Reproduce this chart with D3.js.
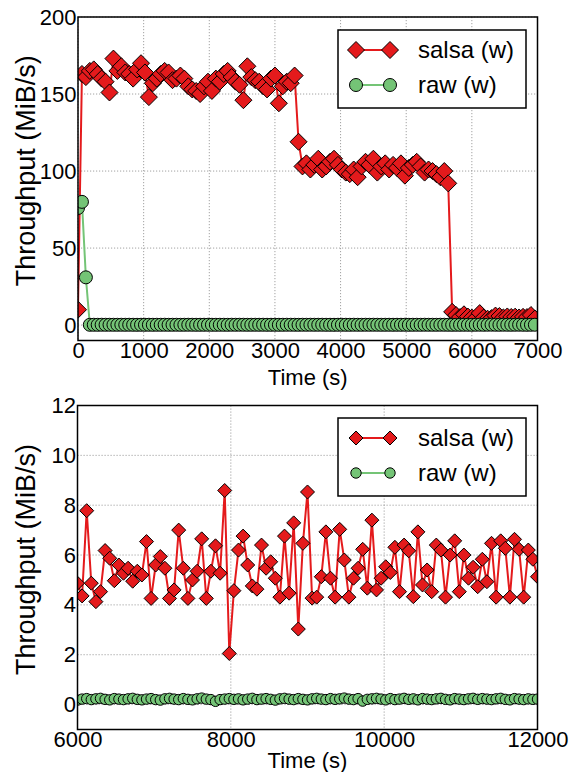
<!DOCTYPE html>
<html><head><meta charset="utf-8">
<script src="https://cdn.jsdelivr.net/npm/d3@7"></script>
<style>
body{margin:0;background:#fff}
svg{display:block}
text{font-family:"Liberation Sans",Arial,Helvetica,sans-serif;fill:#000}
</style>
</head><body>
<svg id="c" width="574" height="772"></svg>
<script>
// ---------- DATA ----------
const seriesNames = ["salsa (w)", "raw (w)"];

const topTime = [
0,60,120,180,240,300,360,420,480,540,
600,660,720,780,840,900,960,1020,1080,1140,
1200,1260,1320,1380,1440,1500,1560,1620,1680,1740,
1800,1860,1920,1980,2040,2100,2160,2220,2280,2340,
2400,2460,2520,2580,2640,2700,2760,2820,2880,2940,
3000,3060,3120,3180,3240,3300,3360,3420,3480,3540,
3600,3660,3720,3780,3840,3900,3960,4020,4080,4140,
4200,4260,4320,4380,4440,4500,4560,4620,4680,4740,
4800,4860,4920,4980,5040,5100,5160,5220,5280,5340,
5400,5460,5520,5580,5640,5700,5760,5820,5880,5940,
6000,6060,6120,6180,6240,6300,6360,6420,6480,6540,
6600,6660,6720,6780,6840,6900,6960];

const topSalsa = [
10,163,161,165,166,163,160,158,151,173,
165,168,164,163,160,166,170,164,148,157,
160,163,165,164,159,160,162,160,155,153,
152,150,155,158,152,160,158,163,165,161,
158,156,146,168,161,159,158,155,153,160,
162,144,155,158,157,162,119,103,105,101,
104,108,101,103,106,108,104,101,99,98,
101,96,103,106,104,108,99,103,105,101,
104,102,105,97,102,104,106,103,99,101,
100,98,96,100,92,8.6,6.5,5.2,7.0,5.5,
4.87,4.36,7.78,4.87,4.13,4.53,6.18,5.87,4.97,5.6,
5.27,5.47,4.95,5.35,5.2,6.54,4.26];

const topRaw = [
76,80,31,0.2,0.21,0.19,0.22,0.2,0.21,0.2,
0.2,0.21,0.19,0.22,0.2,0.18,0.21,0.2,0.22,0.19,
0.21,0.2,0.22,0.19,0.2,0.21,0.18,0.2,0.22,0.21,
0.19,0.2,0.21,0.22,0.2,0.19,0.21,0.2,0.18,0.22,
0.2,0.22,0.21,0.19,0.2,0.21,0.2,0.22,0.19,0.2,
0.21,0.19,0.2,0.22,0.21,0.2,0.18,0.21,0.2,0.22,
0.2,0.21,0.22,0.19,0.2,0.18,0.21,0.22,0.2,0.19,
0.22,0.2,0.19,0.21,0.2,0.22,0.21,0.19,0.2,0.21,
0.19,0.21,0.2,0.22,0.18,0.2,0.21,0.19,0.22,0.2,
0.2,0.19,0.22,0.21,0.2,0.18,0.21,0.2,0.22,0.21,
0.18,0.22,0.24,0.2,0.23,0.25,0.21,0.19,0.24,0.22,
0.2,0.23,0.25,0.21,0.19,0.22,0.24];

const botTime = [
6000,6060,6120,6180,6240,6300,6360,6420,6480,6540,
6600,6660,6720,6780,6840,6900,6960,7020,7080,7140,
7200,7260,7320,7380,7440,7500,7560,7620,7680,7740,
7800,7860,7920,7980,8040,8100,8160,8220,8280,8340,
8400,8460,8520,8580,8640,8700,8760,8820,8880,8940,
9000,9060,9120,9180,9240,9300,9360,9420,9480,9540,
9600,9660,9720,9780,9840,9900,9960,10020,10080,10140,
10200,10260,10320,10380,10440,10500,10560,10620,10680,10740,
10800,10860,10920,10980,11040,11100,11160,11220,11280,11340,
11400,11460,11520,11580,11640,11700,11760,11820,11880,11940,
12000];

const botSalsa = [
4.87,4.36,7.78,4.87,4.13,4.53,6.18,5.87,4.97,5.6,
5.27,5.47,4.95,5.35,5.2,6.54,4.26,5.6,5.94,5.47,
4.26,4.6,7.0,5.47,4.26,5.0,5.35,6.65,4.26,5.35,
6.37,5.27,8.59,2.05,4.57,6.2,6.76,5.6,4.76,4.63,
6.4,5.47,5.73,5.07,4.31,6.76,4.47,7.29,3.03,6.47,
8.53,4.27,4.31,5.13,6.93,5.07,4.31,7.03,5.8,4.31,
5.07,5.47,6.23,4.67,7.4,4.6,5.07,5.53,5.3,6.31,
4.53,6.4,6.17,4.33,6.93,4.8,5.4,4.53,6.4,6.2,
4.31,6.0,6.57,4.53,6.0,5.07,5.51,4.73,5.83,4.93,
6.47,4.31,6.57,6.27,4.31,6.63,6.23,4.31,6.2,5.83,
5.13];

const botRaw = [
0.18,0.22,0.24,0.2,0.23,0.25,0.21,0.19,0.24,0.22,
0.2,0.23,0.25,0.21,0.19,0.22,0.24,0.2,0.18,0.23,
0.25,0.22,0.2,0.24,0.21,0.19,0.23,0.26,0.22,0.2,
0.13,0.2,0.22,0.24,0.21,0.23,0.19,0.22,0.25,0.2,
0.22,0.24,0.21,0.18,0.23,0.25,0.22,0.2,0.24,0.21,
0.19,0.23,0.25,0.22,0.2,0.24,0.21,0.23,0.26,0.22,
0.2,0.24,0.14,0.21,0.23,0.25,0.22,0.19,0.24,0.2,
0.22,0.25,0.21,0.23,0.19,0.24,0.22,0.2,0.23,0.25,
0.21,0.19,0.24,0.22,0.2,0.23,0.25,0.21,0.24,0.22,
0.2,0.23,0.25,0.21,0.19,0.24,0.22,0.2,0.23,0.21,
0.22];

const topXTicks = [0,1000,2000,3000,4000,5000,6000,7000];
const topYTicks = [0,50,100,150,200];
const botXTicks = [6000,8000,10000,12000];
const botYTicks = [0,2,4,6,8,10,12];
const xLabel = "Time (s)";
const yLabel = "Throughput (MiB/s)";

// ---------- DRAW ----------
const RED = "#e41a1c", GREEN = "#74c476";
const svg = d3.select("#c");
const diamond = r => `M0,${-r}L${r},0L0,${r}L${-r},0Z`;

function panel(o) {
  const g = svg.append("g");
  const x = d3.scaleLinear().domain(o.xDomain).range([o.left, o.right]);
  const y = d3.scaleLinear().domain(o.yDomain).range([o.bottom, o.top]);

  // grid
  g.append("g").selectAll("line").data(o.xTicks).join("line")
    .attr("x1", d => x(d)).attr("x2", d => x(d))
    .attr("y1", o.top).attr("y2", o.bottom)
    .attr("stroke", "#8a8a8a").attr("stroke-width", 0.8).attr("stroke-dasharray", "1.2,1.8");
  g.append("g").selectAll("line").data(o.yTicks).join("line")
    .attr("y1", d => y(d)).attr("y2", d => y(d))
    .attr("x1", o.left).attr("x2", o.right)
    .attr("stroke", "#8a8a8a").attr("stroke-width", 0.8).attr("stroke-dasharray", "1.2,1.8");

  const cid = "clip" + o.id;
  svg.append("clipPath").attr("id", cid).append("rect")
    .attr("x", o.left).attr("y", o.top)
    .attr("width", o.right - o.left).attr("height", o.bottom - o.top);
  const plot = g.append("g").attr("clip-path", `url(#${cid})`);

  const series = [
    {t: o.time, v: o.salsa, color: RED, kind: "D"},
    {t: o.time, v: o.raw, color: GREEN, kind: "o"}
  ];
  const line = d3.line().x(d => x(d[0])).y(d => y(d[1]));
  series.forEach(s => {
    const pts = s.t.map((t, i) => [t, s.v[i]]);
    plot.append("path").datum(pts).attr("d", line)
      .attr("fill", "none").attr("stroke", s.color).attr("stroke-width", 2)
      .attr("stroke-linejoin", "round");
    if (s.kind === "D") {
      plot.append("g").selectAll("path").data(pts).join("path")
        .attr("d", diamond(o.dr))
        .attr("transform", d => `translate(${x(d[0])},${y(d[1])})`)
        .attr("fill", s.color).attr("stroke", "#000").attr("stroke-width", 1);
    } else {
      plot.append("g").selectAll("circle").data(pts).join("circle")
        .attr("cx", d => x(d[0])).attr("cy", d => y(d[1])).attr("r", o.cr)
        .attr("fill", s.color).attr("stroke", "#000").attr("stroke-width", 1);
    }
  });

  // frame
  g.append("rect").attr("x", o.left).attr("y", o.top)
    .attr("width", o.right - o.left).attr("height", o.bottom - o.top)
    .attr("fill", "none").attr("stroke", "#000").attr("stroke-width", 1.5);

  // axes
  const ax = g.append("g").attr("transform", `translate(0,${o.bottom})`)
    .call(d3.axisBottom(x).tickValues(o.xTicks).tickSize(0).tickPadding(1.5).tickFormat(d3.format("d")));
  const ay = g.append("g").attr("transform", `translate(${o.left},0)`)
    .call(d3.axisLeft(y).tickValues(o.yTicks).tickSize(0).tickPadding(1.5).tickFormat(d3.format("d")));
  [ax, ay].forEach(a => {
    a.select(".domain").remove();
    a.attr("font-family", null).attr("font-size", null);
    a.selectAll("text").style("font-size", o.tickFs + "px").attr("fill", "#000");
  });

  g.append("text").attr("x", (o.left + o.right) / 2).attr("y", o.xLabelY)
    .attr("text-anchor", "middle").style("font-size", o.xLabelFs + "px").text(xLabel);
  g.append("text").attr("transform", `translate(${o.yLabelX},${(o.top + o.bottom) / 2 + o.yLabelShift}) rotate(-90)`)
    .attr("text-anchor", "middle").style("font-size", o.yLabelFs + "px").text(yLabel);

  // legend
  const L = o.legend;
  const lg = g.append("g");
  lg.append("rect").attr("x", L.x).attr("y", L.y).attr("width", L.w).attr("height", L.h)
    .attr("fill", "#fff").attr("stroke", "#000").attr("stroke-width", 1.5);
  series.forEach((s, i) => {
    const cy = L.y + L.row0 + i * L.rowGap;
    lg.append("line").attr("x1", L.x + L.m1).attr("x2", L.x + L.m2)
      .attr("y1", cy).attr("y2", cy).attr("stroke", s.color).attr("stroke-width", 2);
    [L.m1, L.m2].forEach(mx => {
      if (s.kind === "D") {
        lg.append("path").attr("d", diamond(o.dr))
          .attr("transform", `translate(${L.x + mx},${cy})`)
          .attr("fill", s.color).attr("stroke", "#000").attr("stroke-width", 1);
      } else {
        lg.append("circle").attr("cx", L.x + mx).attr("cy", cy).attr("r", o.cr)
          .attr("fill", s.color).attr("stroke", "#000").attr("stroke-width", 1);
      }
    });
    lg.append("text").attr("x", L.x + L.tx).attr("y", cy).attr("dy", "0.35em")
      .style("font-size", L.fs + "px").text(seriesNames[i]);
  });
}

panel({
  id: "top", left: 78, right: 537.5, top: 17, bottom: 340.5,
  xDomain: [0, 7000], yDomain: [-10, 200],
  xTicks: topXTicks, yTicks: topYTicks,
  time: topTime, salsa: topSalsa, raw: topRaw,
  dr: 8.5, cr: 6.5, tickFs: 22, xLabelFs: 22, yLabelFs: 27, yLabelShift: -8,
  xLabelY: 385, yLabelX: 35,
  legend: {x: 338, y: 30, w: 188, h: 78, row0: 20, rowGap: 35, m1: 18, m2: 52, tx: 80, fs: 24}
});

panel({
  id: "bot", left: 77.5, right: 537.5, top: 405.5, bottom: 729.5,
  xDomain: [6000, 12000], yDomain: [-1, 12],
  xTicks: botXTicks, yTicks: botYTicks,
  time: botTime, salsa: botSalsa, raw: botRaw,
  dr: 7, cr: 5.2, tickFs: 22, xLabelFs: 22, yLabelFs: 27, yLabelShift: -8,
  xLabelY: 768, yLabelX: 35,
  legend: {x: 338, y: 418, w: 188, h: 78, row0: 20, rowGap: 35, m1: 18, m2: 52, tx: 80, fs: 24}
});
</script>
</body></html>
